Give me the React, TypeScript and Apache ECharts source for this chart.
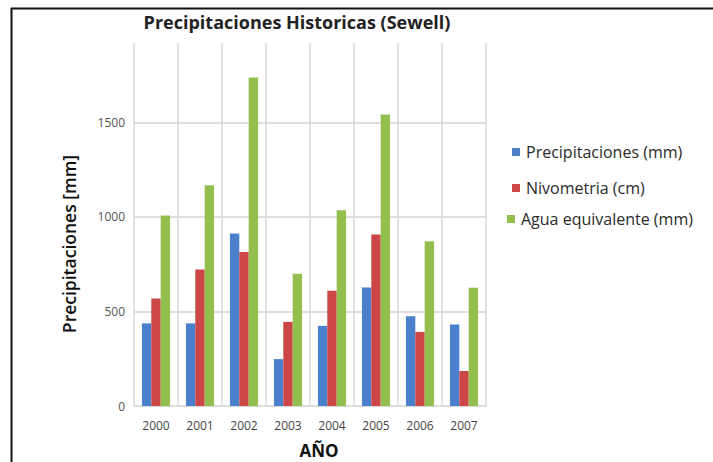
import React, { useEffect, useRef } from "react";
import * as echarts from "echarts";

const years = ["2000", "2001", "2002", "2003", "2004", "2005", "2006", "2007"];
const precipitaciones = [437, 437, 912, 248, 424, 627, 475, 431];
const nivometria = [569, 722, 815, 445, 609, 907, 392, 185];
const aguaEquivalente = [1008, 1167, 1737, 700, 1035, 1542, 871, 625];
const seriesNames = ["Precipitaciones (mm)", "Nivometria (cm)", "Agua equivalente (mm)"];
const colors = ["#4a80cc", "#cc4646", "#92bf4e"];

export default function App() {
  const ref = useRef<HTMLDivElement>(null);
  useEffect(() => {
    if (!ref.current) return;
    const chart = echarts.init(ref.current, null, { renderer: "svg" });
    const font = "'Open Sans', 'DejaVu Sans', sans-serif";
    const legendBase = (name: string, left: number, top: number) => ({
      data: [name],
      left,
      top,
      orient: "vertical" as const,
      itemWidth: 8,
      itemHeight: 8,
      icon: "rect",
      selectedMode: false,
      textStyle: { fontFamily: font, fontSize: 16, color: "#2a2a2a", padding: [0, 0, 0, 1] },
    });
    chart.setOption({
      animation: false,
      backgroundColor: "#ffffff",
      title: {
        text: "Precipitaciones Historicas (Sewell)",
        left: 292,
        textAlign: "center",
        top: 8,
        textStyle: { fontFamily: font, fontSize: 18, fontWeight: "bold", color: "#222" },
      },
      legend: [
        legendBase(seriesNames[0], 507, 139),
        legendBase(seriesNames[1], 507, 175),
        legendBase(seriesNames[2], 502, 206),
      ],
      grid: { left: 134, right: 227, top: 43, bottom: 56 },
      xAxis: {
        type: "category",
        data: years,
        axisLine: { lineStyle: { color: "#d9d9d9" } },
        axisTick: { show: false },
        axisLabel: { fontFamily: font, fontSize: 12, color: "#444", margin: 13 },
        splitLine: { show: true, lineStyle: { color: "#dadada", width: 1.5 } },
      },
      yAxis: {
        type: "value",
        min: 0,
        max: 1920,
        interval: 500,
        axisLine: { show: false },
        axisTick: { show: false },
        axisLabel: {
          fontFamily: font,
          fontSize: 12,
          color: "#555",
          margin: 9,
          showMaxLabel: false,
          formatter: (v: number) => (v % 500 === 0 ? String(v) : ""),
        },
        splitLine: { show: true, showMaxLine: false, lineStyle: { color: "#d5d5d5", width: 1.5 } },
      },
      series: [
        { name: seriesNames[0], type: "bar", data: precipitaciones, itemStyle: { color: colors[0] }, barGap: "0%", barCategoryGap: "36%" },
        { name: seriesNames[1], type: "bar", data: nivometria, itemStyle: { color: colors[1] } },
        { name: seriesNames[2], type: "bar", data: aguaEquivalente, itemStyle: { color: colors[2] } },
      ],
      graphic: [
        { type: "line", shape: { x1: 11, y1: 8.5, x2: 713, y2: 8.5 }, style: { stroke: "#111", lineWidth: 2 } },
        { type: "line", shape: { x1: 11.5, y1: 8, x2: 11.5, y2: 462 }, style: { stroke: "#111", lineWidth: 2 } },
        {
          type: "text",
          x: 69,
          y: 244,
          rotation: Math.PI / 2,
          style: {
            text: "Precipitaciones [mm]",
            fontFamily: font,
            fontSize: 17.5,
            fontWeight: 600,
            fill: "#111",
            textAlign: "center",
            textVerticalAlign: "middle",
          },
        },
        {
          type: "text",
          x: 319,
          y: 450,
          style: {
            text: "AÑO",
            fontFamily: font,
            fontSize: 17,
            fontWeight: "bold",
            fill: "#111",
            textAlign: "center",
            textVerticalAlign: "middle",
          },
        },
      ],
    });
    return () => chart.dispose();
  }, []);
  return (
    <div
      ref={ref}
      style={{ position: "fixed", left: 0, top: 0, width: 713, height: 462, background: "#fff" }}
    />
  );
}
